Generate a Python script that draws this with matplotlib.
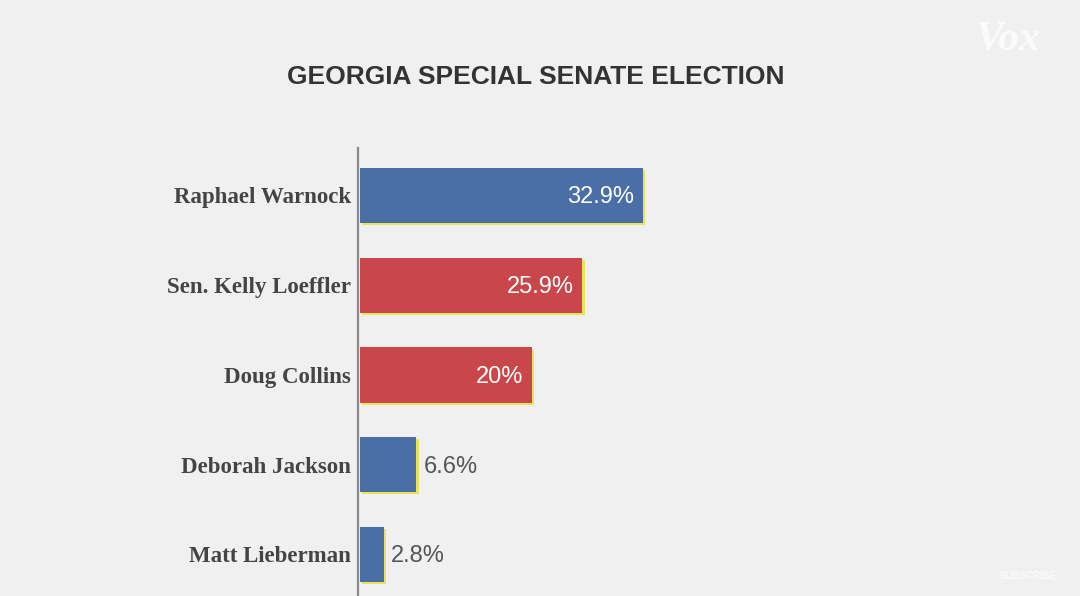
import matplotlib.pyplot as plt
from matplotlib import patheffects as pe

# data
candidates = ['Raphael Warnock', 'Sen. Kelly Loeffler', 'Doug Collins',
              'Deborah Jackson', 'Matt Lieberman']
shares = [32.9, 25.9, 20.0, 6.6, 2.8]
share_labels = ['32.9%', '25.9%', '20%', '6.6%', '2.8%']
parties = ['D', 'R', 'R', 'D', 'D']

colors = {'D': '#4a6ea6', 'R': '#c9474a'}
bg = '#f0f0f0'

fig = plt.figure(figsize=(10.8, 5.96), dpi=100)
fig.patch.set_facecolor(bg)

# axes placed so the bar area starts at the vertical rule
ax = fig.add_axes([358 / 1080, 0, 700 / 1080, 448 / 596])
ax.set_facecolor('none')

ypos = list(range(len(candidates)))
shadow = [pe.SimplePatchShadow(offset=(1.5, -1.5), shadow_rgbFace='#e8e35a', alpha=1.0),
          pe.Normal()]
bars = ax.barh(ypos, shares, height=0.613, left=0.2,
               color=[colors[p] for p in parties])
for b in bars:
    b.set_path_effects(shadow)

ax.set_xlim(0, 700 / 8.6)
ax.set_ylim(4 + 41.5 / 89.75, -47.5 / 89.75)

for y, v, lab in zip(ypos, shares, share_labels):
    if v > 15:
        ax.text(v - 0.8, y + 0.02, lab, ha='right', va='center', color='white',
                fontsize=17, family='Liberation Sans')
    else:
        ax.text(v + 1.0, y + 0.02, lab, ha='left', va='center', color='#555555',
                fontsize=17, family='Liberation Sans')

ax.set_yticks(ypos)
ax.set_yticklabels(candidates, fontsize=16.5, family='Liberation Serif',
                   fontweight='bold', color='#444444')
ax.tick_params(axis='y', length=0, pad=5)
ax.set_xticks([])
for s in ['top', 'right', 'bottom']:
    ax.spines[s].set_visible(False)
ax.spines['left'].set_color('#8a8a8a')
ax.spines['left'].set_linewidth(1.6)

fig.text(536 / 1080, 1 - 77 / 596, 'GEORGIA SPECIAL SENATE ELECTION',
         ha='center', va='center', fontsize=19, fontweight='heavy',
         family='Liberation Sans', color='#333333')

# channel marks
fig.text(1008 / 1080, 1 - 40 / 596, 'Vox', ha='center', va='center',
         fontsize=30, family='Liberation Serif', style='italic',
         fontweight='bold', color='#fbfbfb')
fig.text(1028 / 1080, 1 - 576 / 596, 'SUBSCRIBE', ha='center', va='center',
         fontsize=7, family='Liberation Sans', fontweight='bold',
         color='#fafafa')

fig.savefig('out.png', dpi=100, facecolor=bg)
